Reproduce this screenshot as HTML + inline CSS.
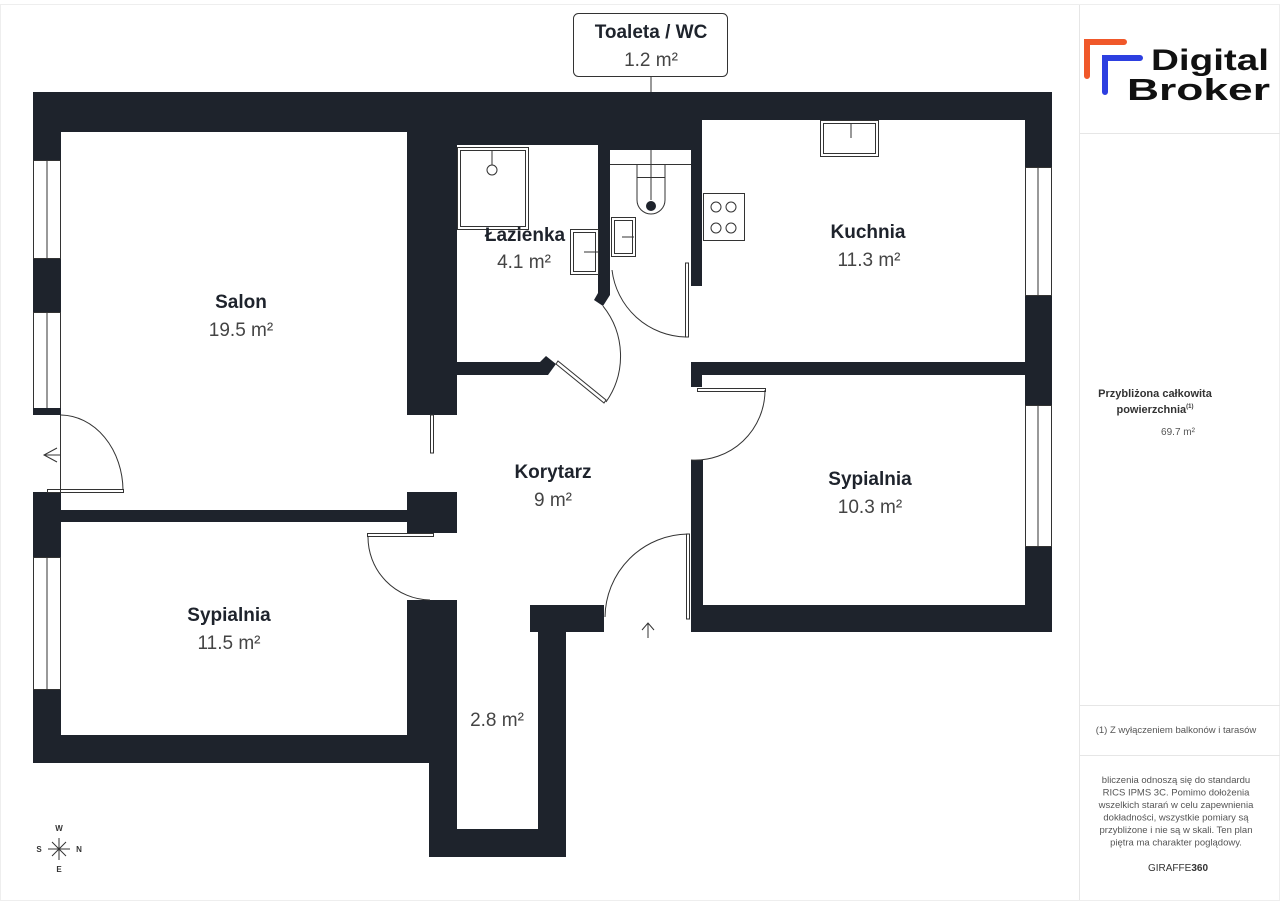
<!DOCTYPE html>
<html><head><meta charset="utf-8"><style>
body{margin:0;background:#fff;width:1280px;height:905px;overflow:hidden;font-family:"Liberation Sans","DejaVu Sans",sans-serif}
</style></head><body>
<svg width="1280" height="905" viewBox="0 0 1280 905" xmlns="http://www.w3.org/2000/svg" font-family="Liberation Sans, DejaVu Sans, sans-serif">
<rect x="0.5" y="4.5" width="1279" height="896" fill="#fff" stroke="#eeeeee"/>
<line x1="1079.5" y1="5" x2="1079.5" y2="900" stroke="#e6e6e6"/>
<line x1="1080" y1="133.5" x2="1280" y2="133.5" stroke="#e6e6e6"/>
<line x1="1080" y1="705.5" x2="1280" y2="705.5" stroke="#e6e6e6"/>
<line x1="1080" y1="755.5" x2="1280" y2="755.5" stroke="#e6e6e6"/>
<!-- logo -->
<path d="M1087 76 V42 H1124" fill="none" stroke="#f0582a" stroke-width="6" stroke-linecap="round"/>
<path d="M1105 92 V58 H1140" fill="none" stroke="#2d3fe0" stroke-width="6" stroke-linecap="round"/>
<text x="1151" y="70" font-size="30" font-weight="bold" fill="#111" textLength="118" lengthAdjust="spacingAndGlyphs">Digital</text>
<text x="1127" y="100" font-size="31" font-weight="bold" fill="#111" textLength="143" lengthAdjust="spacingAndGlyphs">Broker</text>
<text x="1155" y="397" font-size="11" font-weight="bold" fill="#333" text-anchor="middle">Przybliżona całkowita</text>
<text x="1155" y="413" font-size="11" font-weight="bold" fill="#333" text-anchor="middle">powierzchnia<tspan font-size="6" dy="-5">(1)</tspan></text>
<text x="1178" y="435" font-size="10" fill="#555" text-anchor="middle">69.7 m²</text>
<text x="1176" y="733" font-size="9.5" fill="#555" text-anchor="middle">(1) Z wyłączeniem balkonów i tarasów</text>
<g font-size="9.5" fill="#555" text-anchor="middle">
<text x="1176" y="783">bliczenia odnoszą się do standardu</text>
<text x="1176" y="795.5">RICS IPMS 3C. Pomimo dołożenia</text>
<text x="1176" y="808">wszelkich starań w celu zapewnienia</text>
<text x="1176" y="820.5">dokładności, wszystkie pomiary są</text>
<text x="1176" y="833">przybliżone i nie są w skali. Ten plan</text>
<text x="1176" y="845.5">piętra ma charakter poglądowy.</text>
</g>
<text x="1178" y="871" font-size="10" fill="#333" text-anchor="middle">GIRAFFE<tspan font-weight="bold">360</tspan></text>

<!-- label box -->
<line x1="651" y1="77" x2="651" y2="92" stroke="#333"/>
<rect x="573.5" y="13.5" width="154" height="63" rx="5" fill="#fff" stroke="#333"/>
<text x="651" y="38" font-size="19" font-weight="bold" fill="#1e232c" text-anchor="middle">Toaleta / WC</text>
<text x="651" y="66" font-size="19" fill="#444" text-anchor="middle">1.2 m²</text>

<g fill="#1e232c">
<rect x="33" y="92" width="1019" height="28"/>
<rect x="33" y="92" width="374" height="40"/>
<rect x="407" y="92" width="50" height="323"/>
<rect x="457" y="92" width="141" height="53"/>
<rect x="598" y="92" width="104" height="58"/>
<rect x="598" y="145" width="12" height="145"/>
<polygon points="598,285 610,285 610,295 603,306 594,300 598,293"/>
<rect x="691" y="145" width="11" height="141"/>
<rect x="1025" y="92" width="27" height="540"/>
<rect x="33" y="92" width="28" height="671"/>
<rect x="61" y="510" width="346" height="12"/>
<rect x="407" y="492" width="50" height="41"/>
<rect x="407" y="600" width="50" height="163"/>
<rect x="33" y="735" width="424" height="28"/>
<rect x="429" y="735" width="28" height="122"/>
<rect x="429" y="829" width="137" height="28"/>
<rect x="538" y="605" width="28" height="252"/>
<rect x="530" y="605" width="74" height="27"/>
<rect x="457" y="362" width="88" height="13"/>
<polygon points="540,362 546,356 556,364 548,375 540,375"/>
<rect x="691" y="362" width="361" height="13"/>
<rect x="691" y="362" width="11" height="25"/>
<rect x="691" y="460" width="12" height="172"/>
<rect x="691" y="605" width="361" height="27"/>
</g>
<!-- windows -->
<g fill="#fff" stroke="#333" stroke-width="1">
<rect x="33.5" y="160.5" width="27" height="98"/>
<rect x="33.5" y="312.5" width="27" height="96"/>
<rect x="33.5" y="557.5" width="27" height="132"/>
<rect x="1025.5" y="167.5" width="26" height="128"/>
<rect x="1025.5" y="405.5" width="26" height="141"/>
</g>
<g stroke="#333" stroke-width="1">
<line x1="47" y1="160" x2="47" y2="258"/><line x1="47" y1="312" x2="47" y2="408"/>
<line x1="47" y1="557" x2="47" y2="690"/><line x1="1038" y1="167" x2="1038" y2="296"/>
<line x1="1038" y1="405" x2="1038" y2="547"/>
</g>
<!-- entrance door left -->
<rect x="33" y="415" width="28" height="77" fill="#fff"/>
<rect x="33" y="408" width="28" height="7" fill="#1e232c"/>
<rect x="33" y="492" width="28" height="18" fill="#1e232c"/>
<g fill="none" stroke="#333" stroke-width="1">
<line x1="60.5" y1="415" x2="60.5" y2="492"/>
<rect x="47.5" y="489.5" width="76" height="3"/>
<path d="M61 415 A63 76 0 0 1 123 490"/>
<path d="M57 448 L44 455 L57 462 M44 455 H60"/>
<rect x="430.5" y="415" width="3" height="38"/>
<rect x="367.5" y="533.5" width="66" height="3"/>
<path d="M368 536 A63 63 0 0 0 430 600"/>
<polygon points="556,364 604,403 606,400 558,361"/>
<path d="M603 306 A80 80 0 0 1 606 402"/>
<rect x="685.5" y="263" width="3" height="74"/>
<path d="M612 270 A76 76 0 0 0 686 337"/>
<rect x="697.5" y="388.5" width="68" height="3"/>
<path d="M765 390 A70 70 0 0 1 691 460"/>
<rect x="686.5" y="534" width="3" height="85"/>
<path d="M688 534 A84 84 0 0 0 605 617"/>
<path d="M642 630 L648 623 L654 630 M648 623 V638"/>
<rect x="457.5" y="147.5" width="71" height="82"/><rect x="460.5" y="150.5" width="65" height="76"/>
<circle cx="492" cy="170" r="5"/><line x1="492" y1="150" x2="492" y2="165"/>
<rect x="570.5" y="229.5" width="28" height="45"/><rect x="573.5" y="232.5" width="22" height="39"/>
<line x1="584" y1="252" x2="598" y2="252"/>
<rect x="611.5" y="217.5" width="24" height="39"/><rect x="614.5" y="220.5" width="18" height="33"/>
<line x1="622" y1="237" x2="634" y2="237"/>
<line x1="610" y1="164.5" x2="691" y2="164.5"/>
<path d="M637 165 V200 A14 14 0 0 0 665 200 V165"/>
<line x1="637" y1="177.5" x2="665" y2="177.5"/>
<line x1="651" y1="150" x2="651" y2="200"/>
<rect x="703.5" y="193.5" width="41" height="47"/>
<circle cx="716" cy="207" r="5"/><circle cx="731" cy="207" r="5"/>
<circle cx="716" cy="228" r="5"/><circle cx="731" cy="228" r="5"/>
<rect x="820.5" y="120.5" width="58" height="36"/><rect x="823.5" y="123.5" width="52" height="30"/>
<line x1="851" y1="124" x2="851" y2="138"/>
</g>
<circle cx="651" cy="206" r="5" fill="#1e232c"/>
<g text-anchor="middle" fill="#1e232c">
<g font-size="19" font-weight="bold">
<text x="241" y="308">Salon</text>
<text x="525" y="241">Łazienka</text>
<text x="868" y="238">Kuchnia</text>
<text x="553" y="478">Korytarz</text>
<text x="870" y="485">Sypialnia</text>
<text x="229" y="621">Sypialnia</text>
</g>
<g font-size="19" fill="#444">
<text x="241" y="336">19.5 m²</text>
<text x="524" y="268">4.1 m²</text>
<text x="869" y="266">11.3 m²</text>
<text x="553" y="506">9 m²</text>
<text x="870" y="513">10.3 m²</text>
<text x="229" y="649">11.5 m²</text>
<text x="497" y="726">2.8 m²</text>
</g>
</g>
<g stroke="#333" stroke-width="1">
<line x1="48" y1="849" x2="70" y2="849"/><line x1="59" y1="838" x2="59" y2="860"/>
<line x1="52" y1="842" x2="66" y2="856"/><line x1="66" y1="842" x2="52" y2="856"/>
</g>
<g font-size="8" font-weight="bold" fill="#333" text-anchor="middle">
<text x="59" y="831">W</text><text x="59" y="872">E</text>
<text x="39" y="852">S</text><text x="79" y="852">N</text>
</g>
</svg>
</body></html>
